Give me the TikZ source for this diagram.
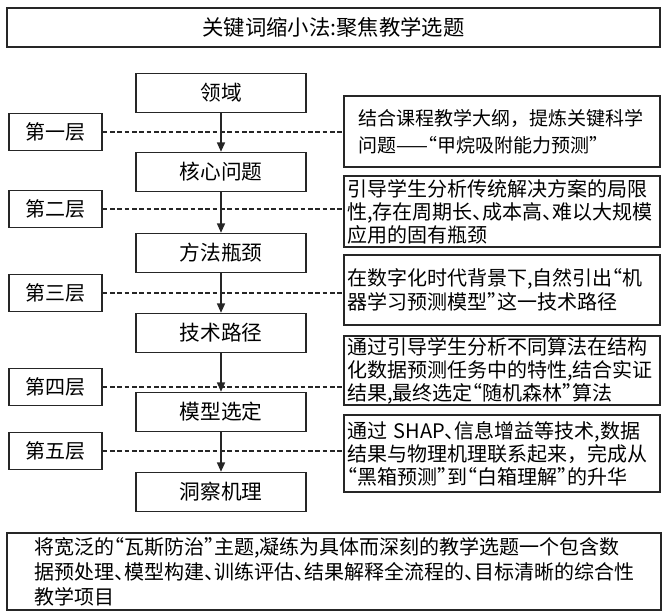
\documentclass[tikz,border=0pt]{standalone}
\usepackage{fontspec}
\setmainfont{Noto Sans CJK SC}
\newfontfamily\cjkhalt[RawFeature=+halt]{Noto Sans CJK SC}
\usetikzlibrary{arrows.meta, positioning, calc}

\begin{document}
\begin{tikzpicture}[x=0.75pt, y=-0.75pt,
  box/.style={draw=black!85, line width=1.1pt, inner sep=0pt},
  stepbox/.style={box, minimum width=127.5pt, minimum height=29.25pt, font=\fontsize{15.5}{18}\selectfont},
  layerbox/.style={box, minimum width=69.75pt, minimum height=27.75pt, font=\fontsize{15}{18}\selectfont},
  notebox/.style={box, text width=232.5pt, inner xsep=2.25pt, align=left, font=\fontsize{15}{17.25}\selectfont},
  flow/.style={-{Triangle[length=7pt,width=6pt]}, line width=1.1pt, black!85},
  link/.style={line width=1pt, dash pattern=on 3.5pt off 2pt, black!85}]
\useasboundingbox (0,0) rectangle (664,615);

% Title bar
\node[box, minimum width=489.75pt, minimum height=29.25pt, font=\fontsize{16}{19}\selectfont] (title) at (333.5,27.5) {关键词缩小法:聚焦教学选题};

% Main chain of steps
\foreach \i/\y/\label in {1/93/领域, 2/172/核心问题, 3/253/方法瓶颈, 4/333/技术路径, 5/412/模型选定, 6/492/洞察机理} {
    \node[stepbox] (s\i) at (221,\y) {\label};
}

% Layer tags on the left
\foreach \i/\y/\label in {1/132/第一层, 2/209/第二层, 3/293/第三层, 4/387/第四层, 5/451/第五层} {
    \node[layerbox] (l\i) at (55.5,\y) {\label};
}

% Notes on the right
\node[notebox, text width=216pt, inner xsep=10.5pt, minimum height=53.25pt, font=\fontsize{14.25}{20.25}\selectfont] (r1) at (502,131.5)
    {结合课程教学大纲，提炼关键科学\\{\cjkhalt 问题——“甲烷吸附能力预测”}};
\node[notebox, minimum height=53.25pt] (r2) at (502,211.5)
    {\cjkhalt 引导学生分析传统解决方案的局限\\性,存在周期长、成本高、难以大规模\\应用的固有瓶颈};
\node[notebox, minimum height=52.5pt, font=\fontsize{15}{18}\selectfont] (r3) at (502,290)
    {\cjkhalt 在数字化时代背景下,自然引出“机\\器学习预测模型”这一技术路径};
\node[notebox, minimum height=51.75pt] (r4) at (502,370.5)
    {\cjkhalt 通过引导学生分析不同算法在结构\\化数据预测任务中的特性,结合实证\\结果,最终选定“随机森林”算法};
\node[notebox, minimum height=57.75pt] (r5) at (502,453.5)
    {{\cjkhalt 通过 SHAP、信息增益等技术,数据}\\结果与物理机理联系起来，完成从\\{\cjkhalt “黑箱预测”到“白箱理解”的升华}};

% Summary at the bottom
\node[box, text width=450pt, inner xsep=20.25pt, minimum height=57.75pt, align=left, font=\fontsize{15}{18.75}\selectfont\cjkhalt] (sum) at (334,571.5)
    {将宽泛的“瓦斯防治”主题,凝练为具体而深刻的教学选题一个包含数\\据预处理、模型构建、训练评估、结果解释全流程的、目标清晰的综合性\\教学项目};

% Dashed links from layers to notes
\foreach \i in {1,...,5} {
    \draw[link] (l\i) -- (l\i -| r\i.west);
}

% Arrows between steps
\foreach \a/\b in {1/2, 2/3, 3/4, 4/5, 5/6} {
    \draw[flow] (s\a) -- (s\b);
}
\end{tikzpicture}
\end{document}
